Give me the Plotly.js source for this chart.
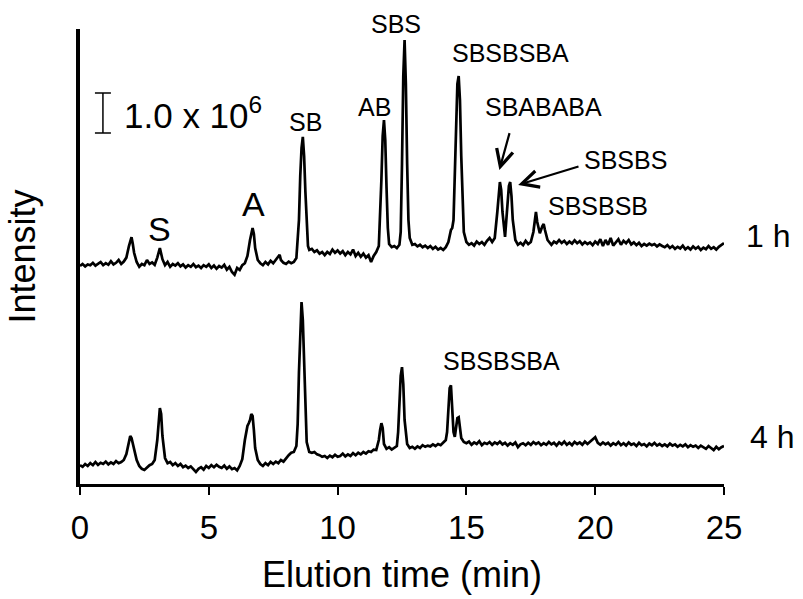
<!DOCTYPE html>
<html>
<head>
<meta charset="utf-8">
<script src="https://cdn.plot.ly/plotly-3.0.1.min.js"></script>
<style>html,body{margin:0;padding:0;background:#fff;}#chart{width:803px;height:599px;}</style>
</head>
<body>
<div id="chart"></div>
<script>
// Elution time (min), intensity (x 10^6)
const points1h = [[0,0.45],[0.1,0.5],[0.2,0.44],[0.3,0.49],[0.4,0.47],[0.5,0.53],[0.6,0.46],[0.7,0.5],[0.8,0.55],[0.9,0.47],[1.0,0.52],[1.1,0.48],[1.2,0.57],[1.3,0.49],[1.4,0.53],[1.5,0.6],[1.6,0.5],[1.7,0.56],[1.8,0.66],[1.9,0.95],[1.95,1.1],[2.0,1.17],[2.05,1.0],[2.1,0.78],[2.2,0.55],[2.3,0.43],[2.4,0.5],[2.5,0.47],[2.6,0.6],[2.7,0.5],[2.8,0.54],[2.9,0.48],[3.0,0.66],[3.1,0.9],[3.2,0.62],[3.3,0.47],[3.4,0.55],[3.5,0.43],[3.6,0.5],[3.7,0.46],[3.8,0.52],[3.9,0.44],[4.0,0.49],[4.1,0.41],[4.2,0.47],[4.3,0.43],[4.4,0.5],[4.5,0.42],[4.6,0.46],[4.7,0.4],[4.8,0.47],[4.9,0.43],[5.0,0.49],[5.1,0.4],[5.2,0.46],[5.3,0.38],[5.4,0.45],[5.5,0.41],[5.6,0.48],[5.7,0.36],[5.8,0.43],[5.9,0.3],[6.0,0.23],[6.1,0.4],[6.2,0.35],[6.3,0.47],[6.4,0.52],[6.5,0.7],[6.6,1.1],[6.7,1.4],[6.75,1.25],[6.8,0.9],[6.9,0.6],[7.0,0.52],[7.1,0.47],[7.2,0.55],[7.3,0.49],[7.4,0.58],[7.5,0.52],[7.6,0.6],[7.7,0.68],[7.75,0.73],[7.8,0.6],[7.9,0.53],[8.0,0.5],[8.1,0.56],[8.2,0.52],[8.3,0.55],[8.4,0.65],[8.5,1.6],[8.55,2.7],[8.6,3.4],[8.65,3.68],[8.7,3.2],[8.75,2.3],[8.8,1.4],[8.85,0.95],[8.9,0.85],[9.0,0.88],[9.1,0.8],[9.2,0.84],[9.3,0.76],[9.4,0.8],[9.5,0.72],[9.6,0.8],[9.7,0.75],[9.8,0.86],[9.9,0.78],[10.0,0.84],[10.1,0.76],[10.2,0.82],[10.3,0.72],[10.4,0.8],[10.5,0.74],[10.6,0.86],[10.7,0.7],[10.8,0.78],[10.9,0.68],[11.0,0.76],[11.1,0.66],[11.2,0.72],[11.3,0.55],[11.4,0.7],[11.5,0.8],[11.6,0.95],[11.7,2.6],[11.75,3.7],[11.8,4.1],[11.85,3.6],[11.9,2.4],[11.95,1.4],[12.0,1.0],[12.1,0.92],[12.2,0.95],[12.3,0.9],[12.4,0.98],[12.45,1.3],[12.5,3.0],[12.55,5.2],[12.6,6.1],[12.65,5.0],[12.7,3.0],[12.75,1.6],[12.8,1.15],[12.9,0.98],[13.0,1.0],[13.1,0.94],[13.2,0.98],[13.3,0.92],[13.4,0.96],[13.5,0.9],[13.6,0.95],[13.7,0.88],[13.8,0.93],[13.9,0.86],[14.0,0.9],[14.1,0.85],[14.2,0.92],[14.3,1.05],[14.4,1.35],[14.45,1.4],[14.5,1.6],[14.55,2.8],[14.6,4.2],[14.65,5.0],[14.7,5.2],[14.75,4.6],[14.8,3.2],[14.85,1.9],[14.9,1.3],[15.0,1.05],[15.1,0.98],[15.2,1.02],[15.3,0.96],[15.4,1.06],[15.5,1.0],[15.6,1.05],[15.7,0.98],[15.8,1.08],[15.9,1.15],[16.0,1.05],[16.1,1.15],[16.2,1.8],[16.25,2.3],[16.3,2.55],[16.35,2.35],[16.4,1.8],[16.5,1.18],[16.6,1.9],[16.65,2.45],[16.7,2.55],[16.75,2.2],[16.8,1.6],[16.9,1.1],[17.0,0.98],[17.1,1.03],[17.2,0.97],[17.3,1.08],[17.4,1.0],[17.5,1.05],[17.6,1.3],[17.65,1.65],[17.7,1.8],[17.75,1.55],[17.85,1.27],[17.95,1.45],[18.0,1.5],[18.05,1.35],[18.15,1.1],[18.3,0.98],[18.4,1.06],[18.5,1.02],[18.6,1.1],[18.7,1.03],[18.8,1.08],[18.9,1.0],[19.0,1.06],[19.1,1.01],[19.2,1.09],[19.3,1.02],[19.4,1.07],[19.5,0.99],[19.6,1.05],[19.7,1.0],[19.8,1.04],[19.9,0.97],[20.0,1.06],[20.1,1.0],[20.2,1.12],[20.3,0.95],[20.4,1.1],[20.5,0.98],[20.6,1.15],[20.7,0.96],[20.8,1.05],[20.9,1.12],[21.0,0.98],[21.1,1.08],[21.2,1.02],[21.3,1.1],[21.4,0.99],[21.5,1.04],[21.6,0.97],[21.7,1.03],[21.8,0.95],[21.9,1.0],[22.0,0.96],[22.1,1.01],[22.2,0.97],[22.3,1.0],[22.4,0.94],[22.5,0.99],[22.6,0.95],[22.7,0.92],[22.8,0.97],[22.9,0.9],[23.0,0.95],[23.1,0.88],[23.2,0.93],[23.3,0.89],[23.4,0.96],[23.5,0.87],[23.6,0.92],[23.7,0.86],[23.8,0.94],[23.9,0.88],[24.0,0.93],[24.1,0.85],[24.2,0.91],[24.3,0.87],[24.4,0.95],[24.5,0.88],[24.6,0.92],[24.7,0.86],[24.8,0.93],[24.9,0.97],[25.0,1.02]];

const points4h = [[0,0.47],[0.1,0.43],[0.2,0.5],[0.3,0.45],[0.4,0.52],[0.5,0.47],[0.6,0.55],[0.7,0.48],[0.8,0.53],[0.9,0.5],[1.0,0.56],[1.1,0.49],[1.2,0.54],[1.3,0.5],[1.4,0.57],[1.5,0.52],[1.6,0.55],[1.7,0.6],[1.8,0.75],[1.9,1.05],[1.95,1.2],[2.0,1.15],[2.1,0.85],[2.2,0.6],[2.3,0.45],[2.4,0.38],[2.5,0.35],[2.6,0.42],[2.7,0.47],[2.8,0.5],[2.9,0.6],[3.0,1.1],[3.05,1.6],[3.1,1.9],[3.15,1.75],[3.2,1.2],[3.3,0.65],[3.4,0.52],[3.5,0.55],[3.6,0.47],[3.7,0.52],[3.8,0.45],[3.9,0.5],[4.0,0.42],[4.1,0.46],[4.2,0.4],[4.3,0.44],[4.4,0.36],[4.5,0.3],[4.6,0.38],[4.7,0.42],[4.8,0.36],[4.9,0.45],[5.0,0.4],[5.1,0.47],[5.2,0.42],[5.3,0.48],[5.4,0.43],[5.5,0.4],[5.6,0.46],[5.7,0.38],[5.8,0.44],[5.9,0.37],[6.0,0.4],[6.1,0.34],[6.2,0.45],[6.3,0.62],[6.4,1.1],[6.5,1.45],[6.55,1.52],[6.6,1.6],[6.65,1.75],[6.7,1.7],[6.75,1.35],[6.8,0.9],[6.9,0.6],[7.0,0.5],[7.1,0.45],[7.2,0.52],[7.3,0.47],[7.4,0.55],[7.5,0.5],[7.6,0.56],[7.7,0.52],[7.8,0.6],[7.9,0.56],[8.0,0.65],[8.1,0.72],[8.2,0.78],[8.3,0.8],[8.4,0.95],[8.45,1.5],[8.5,2.8],[8.55,4.0],[8.6,4.55],[8.65,4.1],[8.7,3.0],[8.75,1.8],[8.8,1.05],[8.9,0.8],[9.0,0.78],[9.1,0.8],[9.2,0.74],[9.3,0.72],[9.4,0.68],[9.5,0.7],[9.6,0.65],[9.7,0.71],[9.8,0.67],[9.9,0.73],[10.0,0.68],[10.1,0.7],[10.2,0.76],[10.3,0.69],[10.4,0.74],[10.5,0.7],[10.6,0.77],[10.7,0.72],[10.8,0.78],[10.9,0.74],[11.0,0.8],[11.1,0.76],[11.2,0.82],[11.3,0.8],[11.4,0.86],[11.5,0.85],[11.6,1.1],[11.65,1.35],[11.7,1.52],[11.75,1.4],[11.8,1.0],[11.9,0.88],[12.0,0.92],[12.1,0.86],[12.2,0.9],[12.3,0.95],[12.35,1.3],[12.4,2.0],[12.45,2.7],[12.5,2.92],[12.55,2.5],[12.6,1.6],[12.7,1.0],[12.8,0.9],[12.9,0.93],[13.0,0.88],[13.1,0.94],[13.2,0.9],[13.3,0.97],[13.4,0.93],[13.5,0.96],[13.6,0.94],[13.7,0.99],[13.8,0.95],[13.9,1.0],[14.0,0.97],[14.1,1.05],[14.2,1.1],[14.25,1.3],[14.3,1.9],[14.35,2.4],[14.4,2.47],[14.45,1.8],[14.5,1.3],[14.55,1.18],[14.6,1.4],[14.65,1.65],[14.7,1.67],[14.75,1.4],[14.8,1.15],[14.9,1.05],[15.0,1.02],[15.1,1.06],[15.2,0.98],[15.3,1.04],[15.4,1.0],[15.5,1.07],[15.6,0.97],[15.7,1.03],[15.8,1.0],[15.9,1.05],[16.0,0.98],[16.1,1.04],[16.2,1.0],[16.3,1.06],[16.4,0.99],[16.5,1.03],[16.6,0.96],[16.7,1.02],[16.8,0.98],[16.9,1.04],[17.0,0.92],[17.1,0.99],[17.2,1.02],[17.3,0.97],[17.4,1.03],[17.5,0.98],[17.6,1.05],[17.7,1.0],[17.8,1.04],[17.9,0.97],[18.0,1.02],[18.1,0.98],[18.2,1.05],[18.3,0.99],[18.4,1.03],[18.5,0.96],[18.6,1.04],[18.7,0.99],[18.8,1.06],[18.9,0.98],[19.0,1.03],[19.1,0.97],[19.2,1.05],[19.3,1.0],[19.4,1.04],[19.5,0.98],[19.6,1.06],[19.7,1.0],[19.8,1.05],[19.9,1.1],[20.0,1.17],[20.1,1.03],[20.2,0.98],[20.3,1.04],[20.4,0.99],[20.5,1.03],[20.6,0.96],[20.7,1.02],[20.8,0.98],[20.9,1.05],[21.0,0.97],[21.1,1.02],[21.2,0.96],[21.3,1.04],[21.4,0.98],[21.5,1.01],[21.6,0.95],[21.7,1.03],[21.8,0.97],[21.9,1.0],[22.0,0.94],[22.1,1.01],[22.2,0.97],[22.3,1.03],[22.4,0.96],[22.5,1.0],[22.6,0.95],[22.7,0.99],[22.8,0.94],[22.9,1.01],[23.0,0.96],[23.1,0.99],[23.2,0.93],[23.3,0.98],[23.4,0.94],[23.5,0.99],[23.6,0.92],[23.7,0.97],[23.8,0.93],[23.9,0.96],[24.0,0.9],[24.1,0.96],[24.2,0.92],[24.3,0.88],[24.4,0.95],[24.5,0.89],[24.6,0.85],[24.7,0.93],[24.8,0.87],[24.9,0.92],[25.0,0.95]];

const traceNames = ["1 h", "4 h"];
const peakLabels1h = ["S", "A", "SB", "AB", "SBS", "SBSBSBA", "SBABABA", "SBSBS", "SBSBSB"];
const peakLabels4h = ["SBSBSBA"];
const scaleBarValue = 1.0;          // x 10^6
const scaleBarText = "1.0 x 10<sup>6</sup>";
const xTickVals = [0, 5, 10, 15, 20, 25];
const xTitle = "Elution time (min)";
const yTitle = "Intensity";

// stacking offset of the 1 h chromatogram (display only)
const OFFSET_1H = 5.0;
const FONT = "Liberation Sans, Arial, sans-serif";

const t1 = points1h.map(p => p[0]);
const y1 = points1h.map(p => p[1] + OFFSET_1H);
const t4 = points4h.map(p => p[0]);
const y4 = points4h.map(p => p[1]);

const lineStyle = {color: "#000", width: 2.7};
const data = [
  {x: t1, y: y1, type: "scatter", mode: "lines", line: lineStyle, name: traceNames[0], hoverinfo: "skip", cliponaxis: false},
  {x: t4, y: y4, type: "scatter", mode: "lines", line: lineStyle, name: traceNames[1], hoverinfo: "skip", cliponaxis: false}
];

function lab(text, x, y, size, xref, yref) {
  return {text: text, x: x, y: y, xref: xref || "x", yref: yref || "y", showarrow: false,
          font: {family: FONT, size: size || 25, color: "#000"}, xanchor: "center", yanchor: "middle"};
}
function arrow(hx, hy, tx, ty) {
  return {text: "", x: hx, y: hy, ax: tx, ay: ty, xref: "x", yref: "y", axref: "x", ayref: "y",
          showarrow: true, arrowhead: 5, arrowsize: 1.5, arrowwidth: 2.2, arrowcolor: "#000", standoff: 0, startstandoff: 0};
}

const annotations = [
  lab(peakLabels1h[0], 3.09, 6.375, 34),
  lab(peakLabels1h[1], 6.75, 7.0, 34),
  lab(peakLabels1h[2], 8.77, 9.06),
  lab(peakLabels1h[3], 11.45, 9.43),
  lab(peakLabels1h[4], 0.4906, 1.0105, 25, "paper", "paper"),
  lab(peakLabels1h[5], 16.7, 10.78),
  lab(peakLabels1h[6], 18.0, 9.43),
  lab(peakLabels1h[7], 21.19, 8.1),
  lab(peakLabels1h[8], 20.1, 6.95),
  lab(peakLabels4h[0], 16.38, 3.08),
  arrow(16.28, 7.85, 16.69, 8.81),
  arrow(17.01, 7.475, 19.41, 7.95),
  lab(traceNames[0], 1.068, 0.5455, 32, "paper", "paper"),
  lab(traceNames[1], 1.0745, 0.103, 32, "paper", "paper"),
  {text: scaleBarText, x: 1.62, y: 9.275, xref: "x", yref: "y", showarrow: false, xanchor: "left", yanchor: "middle",
   font: {family: FONT, size: 35, color: "#000"}}
];

// scale bar (1.0 x 10^6)
const sbX = 0.89, sbY0 = 8.775, sbHalfCap = 0.31;
const sbStyle = {color: "#000", width: 1.5};
const shapes = [
  {type: "line", xref: "x", yref: "y", x0: sbX, x1: sbX, y0: sbY0, y1: sbY0 + scaleBarValue, line: sbStyle},
  {type: "line", xref: "x", yref: "y", x0: sbX - sbHalfCap, x1: sbX + sbHalfCap, y0: sbY0, y1: sbY0, line: sbStyle},
  {type: "line", xref: "x", yref: "y", x0: sbX - sbHalfCap, x1: sbX + sbHalfCap, y0: sbY0 + scaleBarValue, y1: sbY0 + scaleBarValue, line: sbStyle}
];

const layout = {
  width: 803, height: 599,
  margin: {l: 80, r: 79, t: 29, b: 115},
  paper_bgcolor: "#fff", plot_bgcolor: "#fff",
  showlegend: false,
  font: {family: FONT, color: "#000"},
  xaxis: {
    range: [0, 25], tickvals: xTickVals, ticktext: xTickVals.map(String),
    showline: true, linecolor: "#000", linewidth: 3, mirror: false,
    ticks: "outside", ticklen: 8, tickwidth: 2, tickcolor: "#000",
    tickfont: {family: FONT, size: 33, color: "#000"},
    ticklabelstandoff: 4,
    showgrid: false, zeroline: false, fixedrange: true,
    title: {text: xTitle, font: {family: FONT, size: 36, color: "#000"}, standoff: 18},
    automargin: false
  },
  yaxis: {
    range: [0, 11.375],
    showline: true, linecolor: "#000", linewidth: 4.5,
    ticks: "", showticklabels: false, showgrid: false, zeroline: false, fixedrange: true,
    title: {text: yTitle, font: {family: FONT, size: 36, color: "#000"}, standoff: 30},
    automargin: false
  },
  annotations: annotations,
  shapes: shapes
};

Plotly.newPlot("chart", data, layout, {staticPlot: true, displayModeBar: false});
</script>
</body>
</html>
